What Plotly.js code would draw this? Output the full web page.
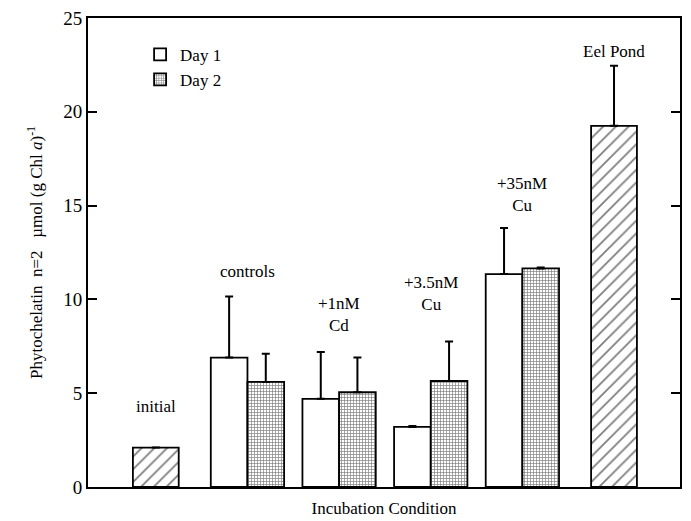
<!DOCTYPE html>
<html>
<head>
<meta charset="utf-8">
<script src="https://cdn.plot.ly/plotly-3.0.1.min.js"></script>
<style>html,body{margin:0;padding:0;background:#fff;}#chart{width:691px;height:521px;}</style>
</head>
<body>
<div id="chart"></div>
<script>
// Category order along the x axis
const categories = ["initial", "controls", "+1nM Cd", "+3.5nM Cu", "+35nM Cu", "Eel Pond"];

// Single (field) samples
const singleCats = ["initial", "Eel Pond"];
const singleValues = [2.1, 19.25];
const singleErrors = [0, 3.2];

// Incubations
const groupCats = ["controls", "+1nM Cd", "+3.5nM Cu", "+35nM Cu"];
const day1Values = [6.9, 4.7, 3.2, 11.35];
const day1Errors = [3.25, 2.5, 0.05, 2.45];
const day2Values = [5.6, 5.05, 5.65, 11.65];
const day2Errors = [1.5, 1.85, 2.1, 0.05];

// Labels written above the bars
const labelTexts = ["initial", "controls", "+1nM<br>Cd", "+3.5nM<br>Cu", "+35nM<br>Cu", "Eel Pond"];
const labelY = [4.3, 11.5, 9.2, 10.3, 15.6, 23.2];

const FONT = "Liberation Serif";
const zeros = a => a.map(() => 0);

const traces = [
  {
    type: "bar", name: "Day 1", x: groupCats, y: day1Values,
    width: 0.4, offset: -0.4,
    marker: {color: "#ffffff", line: {color: "#000", width: 1.8}},
    error_y: {type: "data", array: day1Errors, arrayminus: zeros(day1Errors), symmetric: false,
              color: "#000", thickness: 2, width: 4},
    showlegend: true
  },
  {
    type: "bar", name: "Day 2", x: groupCats, y: day2Values,
    width: 0.4, offset: 0,
    marker: {color: "#ffffff", line: {color: "#000", width: 1.8},
             pattern: {shape: "+", size: 3, solidity: 0.4, fgcolor: "#000", bgcolor: "#fff", fillmode: "overlay"}},
    error_y: {type: "data", array: day2Errors, arrayminus: zeros(day2Errors), symmetric: false,
              color: "#000", thickness: 2, width: 4},
    showlegend: true
  },
  {
    type: "bar", name: "field", x: singleCats, y: singleValues,
    width: 0.5, offset: -0.25,
    marker: {color: "#ffffff", line: {color: "#000", width: 1.8},
             pattern: {shape: "/", size: 9, solidity: 0.2, fgcolor: "#000", bgcolor: "#fff", fillmode: "overlay"}},
    error_y: {type: "data", array: singleErrors, arrayminus: zeros(singleErrors), symmetric: false,
              color: "#000", thickness: 2, width: 4},
    showlegend: false
  }
];

const annotations = categories.map((c, i) => ({
  x: c, y: labelY[i], xref: "x", yref: "y", text: labelTexts[i],
  showarrow: false, font: {family: FONT, size: 17, color: "#000"}, align: "center"
}));

const layout = {
  width: 691, height: 521,
  margin: {l: 88, r: 11, t: 18, b: 34},
  paper_bgcolor: "#fff", plot_bgcolor: "#fff",
  barmode: "overlay",
  font: {family: FONT, size: 17, color: "#000"},
  xaxis: {
    type: "category", categoryorder: "array", categoryarray: categories,
    range: [-0.74, 5.72], showticklabels: false, ticks: "",
    showline: true, linecolor: "#000", linewidth: 2, mirror: true,
    showgrid: false, zeroline: false,
    title: {text: "Incubation Condition", font: {family: FONT, size: 17}, standoff: 14}
  },
  yaxis: {
    range: [0, 25], tickvals: [0, 5, 10, 15, 20, 25],
    ticks: "inside", ticklen: 9, tickwidth: 2, tickcolor: "#000",
    showline: true, linecolor: "#000", linewidth: 2, mirror: "ticks",
    showgrid: false, zeroline: false,
    tickfont: {family: FONT, size: 19},
    title: {text: "Phytochelatin  n=2   µmol (g Chl <i>a</i>)<sup>-1</sup>", font: {family: FONT, size: 17}, standoff: 16}
  },
  legend: {
    x: 0.088, y: 0.96, xanchor: "left", yanchor: "top",
    bgcolor: "rgba(0,0,0,0)", font: {family: FONT, size: 17},
    tracegroupgap: 0, itemwidth: 30
  },
  annotations: annotations
};

const config = {staticPlot: true, displayModeBar: false};
function draw() {
  Plotly.purge("chart");
  Plotly.newPlot("chart", traces, layout, config);
}
draw();
if (document.fonts && document.fonts.load) {
  Promise.all([
    document.fonts.load('17px "Liberation Serif"'),
    document.fonts.load('italic 17px "Liberation Serif"')
  ]).then(draw).catch(() => {});
}
</script>
</body>
</html>
